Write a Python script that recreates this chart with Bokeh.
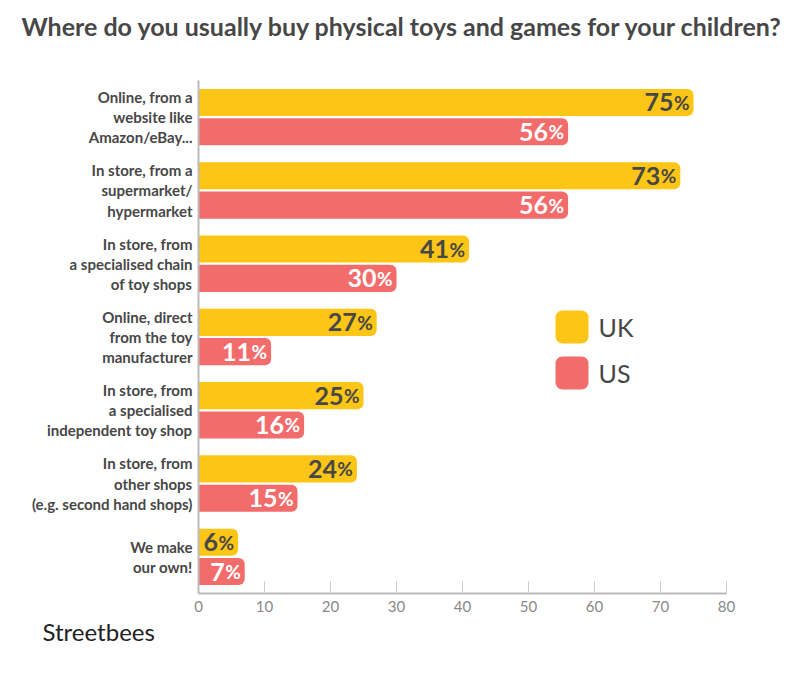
from bokeh.plotting import figure
from bokeh.models import (Range1d, ColumnDataSource, Label, BoxAnnotation,
                          FixedTicker, Title)
from bokeh.core.properties import value
from bokeh.embed import file_html
from bokeh.resources import INLINE

# ---------------- data ----------------
categories = [
    "Online, from a\nwebsite like\nAmazon/eBay...",
    "In store, from a\nsupermarket/\nhypermarket",
    "In store, from\na specialised chain\nof toy shops",
    "Online, direct\nfrom the toy\nmanufacturer",
    "In store, from\na specialised\nindependent toy shop",
    "In store, from\nother shops\n(e.g. second hand shops)",
    "We make\nour own!",
]
uk_values = [75, 73, 41, 27, 25, 24, 6]
us_values = [56, 56, 30, 11, 16, 15, 7]
series_names = ["UK", "US"]
x_ticks = [0, 10, 20, 30, 40, 50, 60, 70, 80]
title_text = "Where do you usually buy physical toys and games for your children?"

# ---------------- style ----------------
UK_COLOR = "#FDC516"
US_COLOR = "#F36C6C"
DARK = "#474747"
FONT = "Lato"

W, H = 802, 674
LEFT, RIGHT, TOP, BOTTOM = 198, 76, 80, 81
FRAME_H = H - TOP - BOTTOM

n = len(categories)
idx = list(range(n))
uk_y = [i + 0.3 for i in idx]
us_y = [i + 0.7 for i in idx]
cat_y = [i + 0.5 for i in idx]

p = figure(width=W, height=H, output_backend="svg", toolbar_location=None,
           x_range=Range1d(0, 80), y_range=Range1d(n, 0),
           min_border_left=LEFT, min_border_right=RIGHT,
           min_border_top=TOP, min_border_bottom=BOTTOM)
p.outline_line_color = None
p.xgrid.grid_line_color = None
p.ygrid.grid_line_color = None
p.background_fill_color = "white"
p.border_fill_color = "white"

# title
p.title.text = title_text
p.title.align = "left"
p.title.offset = -177
p.title.text_font = FONT
p.title.text_font_style = "bold"
p.title.text_font_size = "25px"
p.title.text_color = DARK
p.title.standoff = 0
# spacer between the title and the plot frame
p.add_layout(Title(text=" ", text_font_size="1px", standoff=37), "above")

src = ColumnDataSource(dict(
    uk_y=uk_y, us_y=us_y, uk=uk_values, us=us_values,
    uk_txt=[str(v) for v in uk_values], us_txt=[str(v) for v in us_values],
    pct=["%"] * n,
))

BAR_H = 0.37
p.hbar(y="uk_y", left=0, right="uk", height=BAR_H, source=src,
       fill_color=UK_COLOR, line_color=None, border_radius=(0, 6, 6, 0))
p.hbar(y="us_y", left=0, right="us", height=BAR_H, source=src,
       fill_color=US_COLOR, line_color=None, border_radius=(0, 6, 6, 0))

# value labels
for ycol, xcol, tcol, col in [("uk_y", "uk", "uk_txt", DARK), ("us_y", "us", "us_txt", "white")]:
    p.text(x=xcol, y=ycol, text="pct", source=src, x_offset=-4, y_offset=0,
           text_align="right", text_baseline="alphabetic",
           text_font=value(FONT), text_font_style="bold", text_font_size="19px",
           text_color=col)
    p.text(x=xcol, y=ycol, text=tcol, source=src, x_offset=-20, y_offset=0,
           text_align="right", text_baseline="alphabetic",
           text_font=value(FONT), text_font_style="bold", text_font_size="25px",
           text_color=col)

# axes
p.xaxis.ticker = FixedTicker(ticks=x_ticks)
p.xaxis.axis_line_color = "#BBBBBB"
p.xaxis.axis_line_width = 2
p.xaxis.major_tick_line_color = "#CCCCCC"
p.xaxis.major_tick_in = 12
p.xaxis.major_tick_out = 0
p.xaxis.minor_tick_line_color = None
p.xaxis.major_label_text_font = FONT
p.xaxis.major_label_text_font_size = "15px"
p.xaxis.major_label_text_color = "#8A8A8A"
p.xaxis.major_label_standoff = 7

p.yaxis.ticker = FixedTicker(ticks=cat_y)
p.yaxis.major_label_overrides = {c: lab for c, lab in zip(cat_y, categories)}
p.yaxis.axis_line_color = "#BBBBBB"
p.yaxis.axis_line_width = 2
p.yaxis.major_tick_line_color = None
p.yaxis.major_tick_in = 0
p.yaxis.major_tick_out = 0
p.yaxis.minor_tick_line_color = None
p.yaxis.major_label_standoff = 6
p.yaxis.major_label_text_font = FONT
p.yaxis.major_label_text_font_style = "bold"
p.yaxis.major_label_text_font_size = "15px"
p.yaxis.major_label_text_color = DARK
p.yaxis.major_label_text_line_height = 1.12

# legend (screen units relative to frame: x from frame left, y from frame bottom)
def sx(px):
    return px - LEFT

def sy(py):
    return (TOP + FRAME_H) - py

for name, color, cy in zip(series_names, [UK_COLOR, US_COLOR], [326.5, 372.5]):
    p.add_layout(BoxAnnotation(left=sx(555), right=sx(588), top=sy(cy - 16.5), bottom=sy(cy + 16.5),
                               left_units="screen", right_units="screen",
                               top_units="screen", bottom_units="screen",
                               fill_color=color, fill_alpha=1, line_color=None,
                               border_radius=7))
    p.add_layout(Label(x=sx(598), y=sy(cy), x_units="screen", y_units="screen",
                       text=name, text_align="left", text_baseline="middle",
                       text_font=FONT, text_font_size="25px", text_color=DARK))

# logo
logo = Title(text="Streetbees", align="left", offset=-156, standoff=0,
             text_font=FONT, text_font_style="normal", text_font_size="24px",
             text_color="#222222")
p.add_layout(logo, "below")

open("out.html", "w").write(file_html(p, INLINE))
